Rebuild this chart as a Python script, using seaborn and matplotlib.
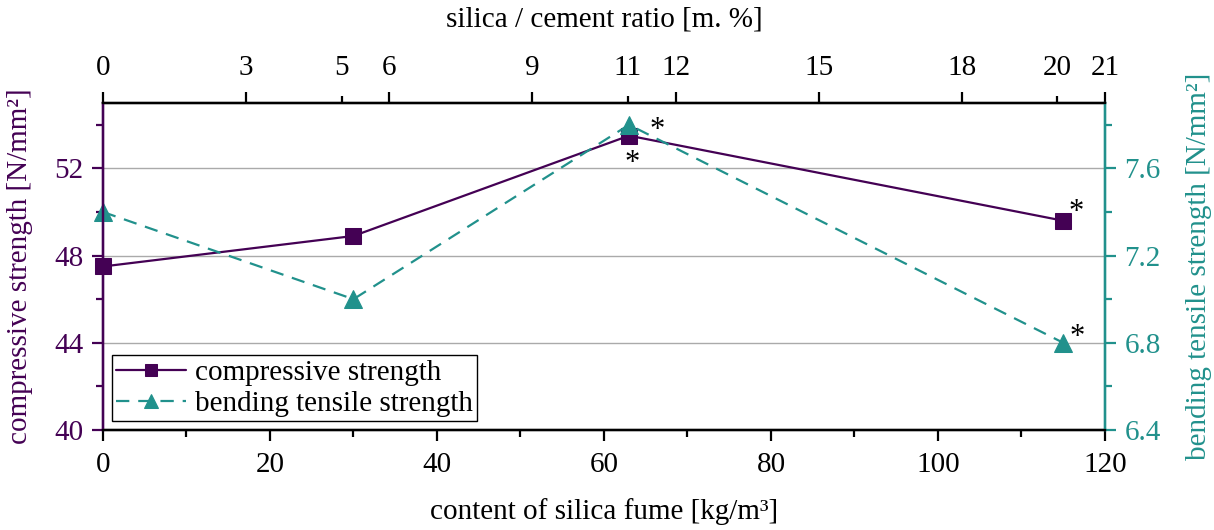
import matplotlib
matplotlib.use('Agg')
import matplotlib.pyplot as plt
import seaborn as sns
import pandas as pd

# data
silica_fume = [0, 30, 63, 115]           # kg/m³
compressive = [47.5, 48.9, 53.5, 49.6]   # N/mm²
bending = [7.4, 7.0, 7.8, 6.8]           # N/mm²
ratio_major = [0, 3, 6, 9, 12, 15, 18, 21]
ratio_minor = [5, 11, 20]

purple = '#440154'
teal = '#21918c'

sns.set_style('white')
plt.rcParams['font.family'] = ['Liberation Serif', 'DejaVu Serif']
plt.rcParams['font.size'] = 21
plt.rcParams['text.color'] = 'black'
plt.rcParams['axes.labelcolor'] = 'black'

df = pd.DataFrame({'x': silica_fume, 'comp': compressive, 'bend': bending})

fig = plt.figure(figsize=(12.14, 5.30), dpi=100)
ax = fig.add_axes([0.0848, 0.1887, 0.8254, 0.617])
ax2 = ax.twinx()
ax3 = ax.twiny()

sns.lineplot(data=df, x='x', y='comp', ax=ax, color=purple, marker='s',
             markersize=11, markeredgecolor=purple, linewidth=1.6,
             label='compressive strength', legend=False, clip_on=False)
sns.lineplot(data=df, x='x', y='bend', ax=ax2, color=teal, marker='^',
             markersize=13, markeredgecolor=teal, linewidth=1.6,
             linestyle=(0, (6, 4)), label='bending tensile strength',
             legend=False, clip_on=False)

ax.set_xlim(0, 120)
ax.set_ylim(40, 55)
ax2.set_ylim(6.4, 7.9)
ax3.set_xlim(0, 21)

ax.set_xticks(range(0, 121, 20))
ax.set_xticks(range(10, 120, 20), minor=True)
ax.set_yticks([40, 44, 48, 52])
ax.set_yticks([42, 46, 50, 54], minor=True)
ax2.set_yticks([6.4, 6.8, 7.2, 7.6])
ax2.set_yticks([6.6, 7.0, 7.4, 7.8], minor=True)
ax2.set_yticklabels(['6.4', '6.8', '7.2', '7.6'])
ax3.set_xticks(ratio_major)
ax3.set_xticks(ratio_minor, minor=True)
ax3.set_xticklabels([str(v) for v in ratio_major])
ax3.set_xticklabels([str(v) for v in ratio_minor], minor=True)

ax.grid(axis='y', which='major', color='#aaaaaa', linewidth=1)
ax.set_axisbelow(True)

ax.set_xlabel('content of silica fume [kg/m³]', labelpad=14)
ax.set_ylabel('compressive strength [N/mm²]', color=purple, labelpad=15)
ax2.set_ylabel('bending tensile strength [N/mm²]', color=teal, labelpad=18)
ax3.set_xlabel('silica / cement ratio [m. %]', labelpad=20)

for a in (ax, ax2, ax3):
    for s in a.spines.values():
        s.set_linewidth(1.6)
        s.set_color('black')
    a.set_facecolor('none')
for a in (ax, ax2, ax3):
    a.spines['left'].set_color(purple)
    a.spines['right'].set_color(teal)

ax.tick_params(axis='x', which='major', direction='out', length=8, width=1.6,
               colors='black', bottom=True, pad=8)
ax.tick_params(axis='x', which='minor', direction='out', length=5, width=1.6,
               color='black', bottom=True)
ax.tick_params(axis='y', which='major', direction='out', length=8, width=1.6,
               colors=purple, left=True, pad=6)
ax.tick_params(axis='y', which='minor', direction='out', length=5, width=1.6,
               color=purple, left=True)
ax2.tick_params(axis='y', which='major', direction='out', length=8, width=1.6,
                colors=teal, right=True, pad=6)
ax2.tick_params(axis='y', which='minor', direction='out', length=5, width=1.6,
                color=teal, right=True)
ax3.tick_params(axis='x', which='major', direction='out', length=8, width=1.6,
                colors='black', top=True, pad=8)
ax3.tick_params(axis='x', which='minor', direction='out', length=5, width=1.6,
                colors='black', top=True, labelsize=21, pad=11)

# significance marks
ax2.annotate('*', (silica_fume[2], bending[2]), xytext=(20, -4),
             textcoords='offset points', ha='center', va='center', fontsize=22)
ax.annotate('*', (silica_fume[2], compressive[2]), xytext=(2, -20),
            textcoords='offset points', ha='center', va='center', fontsize=22)
ax.annotate('*', (silica_fume[3], compressive[3]), xytext=(9, 6),
            textcoords='offset points', ha='center', va='center', fontsize=22)
ax2.annotate('*', (silica_fume[3], bending[3]), xytext=(10, 4),
             textcoords='offset points', ha='center', va='center', fontsize=22)

h1, l1 = ax.get_legend_handles_labels()
h2, l2 = ax2.get_legend_handles_labels()
leg = ax3.legend(h1 + h2, l1 + l2, loc='lower left', fancybox=False,
                 edgecolor='black', framealpha=1, borderaxespad=0.3,
                 handlelength=2.4, handletextpad=0.3, borderpad=0.15,
                 labelspacing=0.15, fontsize=21, markerscale=0.75)
leg.get_frame().set_linewidth(1.0)

plt.savefig('out.png', dpi=100)
